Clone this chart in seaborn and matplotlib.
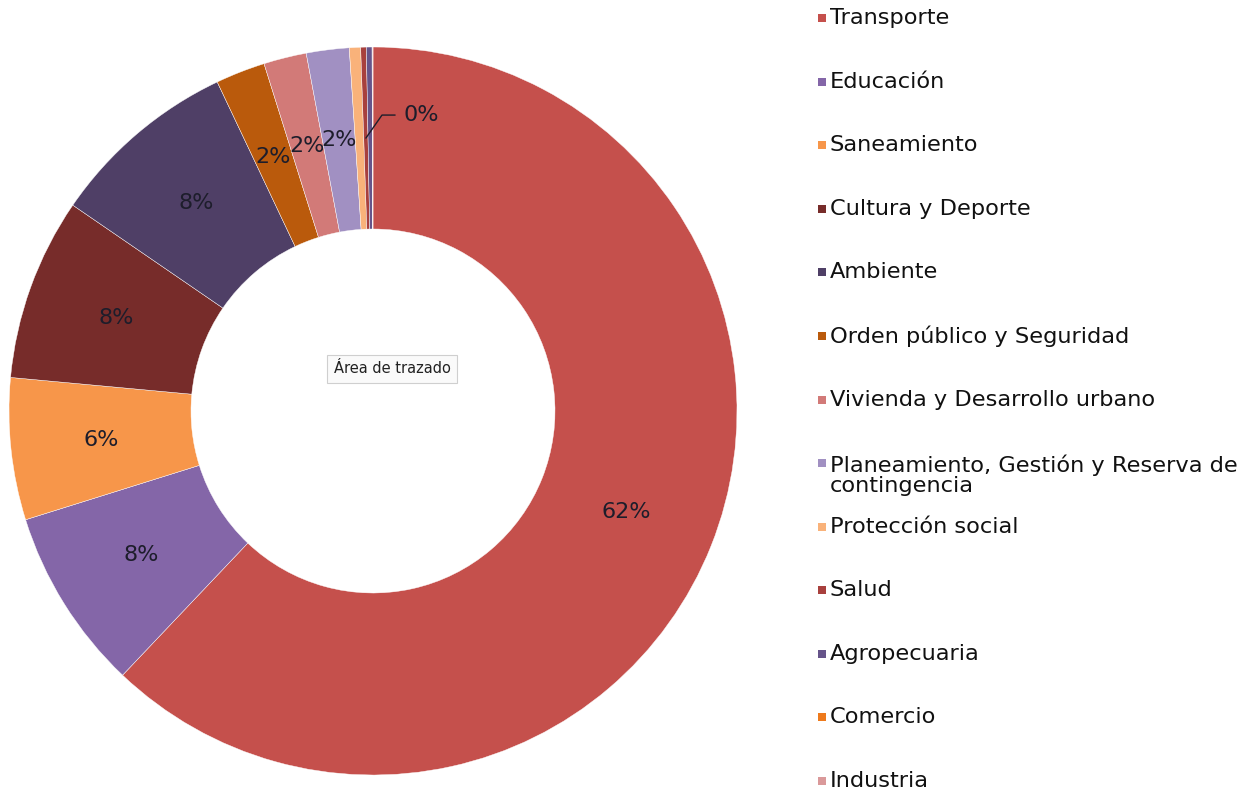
import matplotlib
matplotlib.use("Agg")
import matplotlib.pyplot as plt
import seaborn as sns
import numpy as np
from matplotlib.patches import Rectangle

# data (share of total, %)
categories = ['Transporte', 'Educación', 'Saneamiento', 'Cultura y Deporte',
              'Ambiente', 'Orden público y Seguridad', 'Vivienda y Desarrollo urbano',
              'Planeamiento, Gestión y Reserva de\ncontingencia', 'Protección social',
              'Salud', 'Agropecuaria', 'Comercio', 'Industria']
shares = [62.1, 8.1, 6.3, 8.1, 8.4, 2.2, 1.9, 1.9, 0.5, 0.25, 0.25, 0.02, 0.02]
colors = ['#C5504C', '#8466A8', '#F7964A', '#772C2A', '#4F3F66', '#BA5A0C',
          '#D27A78', '#A190C2', '#F9B27A', '#A8403D', '#66548A', '#EE7A1C', '#DA999A']
small_label = 'Salud'   # the only tiny slice with a visible label

sns.set_theme(style='white')
plt.rcParams['font.family'] = ['DejaVu Sans']
palette = sns.color_palette(colors)

W, H = 1258, 792
fig = plt.figure(figsize=(W / 100, H / 100), dpi=100)
cx, cy, R = 373, 411, 364
ax = fig.add_axes([(cx - R) / W, (H - cy - R) / H, 2 * R / W, 2 * R / H])

def pct_fmt(p):
    return '%d%%' % round(p) if p >= 1 else ''

wedges, texts, autotexts = ax.pie(shares, colors=palette, startangle=90, counterclock=False,
                                  radius=1.0, autopct=pct_fmt, pctdistance=0.75,
                                  wedgeprops=dict(width=0.5, edgecolor='white', linewidth=0.3),
                                  textprops=dict(fontsize=16, color='#1d1d2b'))
ax.set_xlim(-1, 1)
ax.set_ylim(-1, 1)
ax.set_aspect('equal')
ax.axis('off')

# leader-line label for the tiny slice
w = wedges[categories.index(small_label)]
mid = np.deg2rad((w.theta1 + w.theta2) / 2)
px, py = 0.75 * np.cos(mid), 0.75 * np.sin(mid)
ax.annotate('0%', xy=(px, py), xytext=(0.085, 0.813), fontsize=16, color='#1d1d2b',
            ha='left', va='center',
            arrowprops=dict(arrowstyle='-', color='#1d1d2b', lw=1.0,
                            connectionstyle='angle,angleA=0,angleB=55,rad=0',
                            shrinkA=4, shrinkB=0))

# legend on the right
y0, step = 18, (781 - 18) / 12
for i, (name, col) in enumerate(zip(categories, palette)):
    y = y0 + i * step
    fig.add_artist(Rectangle((818 / W, 1 - (y + 4) / H), 8 / W, 8 / H,
                             transform=fig.transFigure, facecolor=col, edgecolor='none'))
    ty = y + 12.5 if '\n' in name else y
    fig.text(830 / W, 1 - ty / H, name, fontsize=16.2, color='#111111',
             ha='left', va='center', linespacing=1.0)

# tooltip left over in the original screenshot
fig.text(392 / W, 1 - 369 / H, 'Área de trazado', fontsize=10.5, color='#222222',
         ha='center', va='center',
         bbox=dict(boxstyle='square,pad=0.45', fc='#fafafa', ec='#cfcfcf', lw=0.8))

fig.savefig('out.png', dpi=100)
